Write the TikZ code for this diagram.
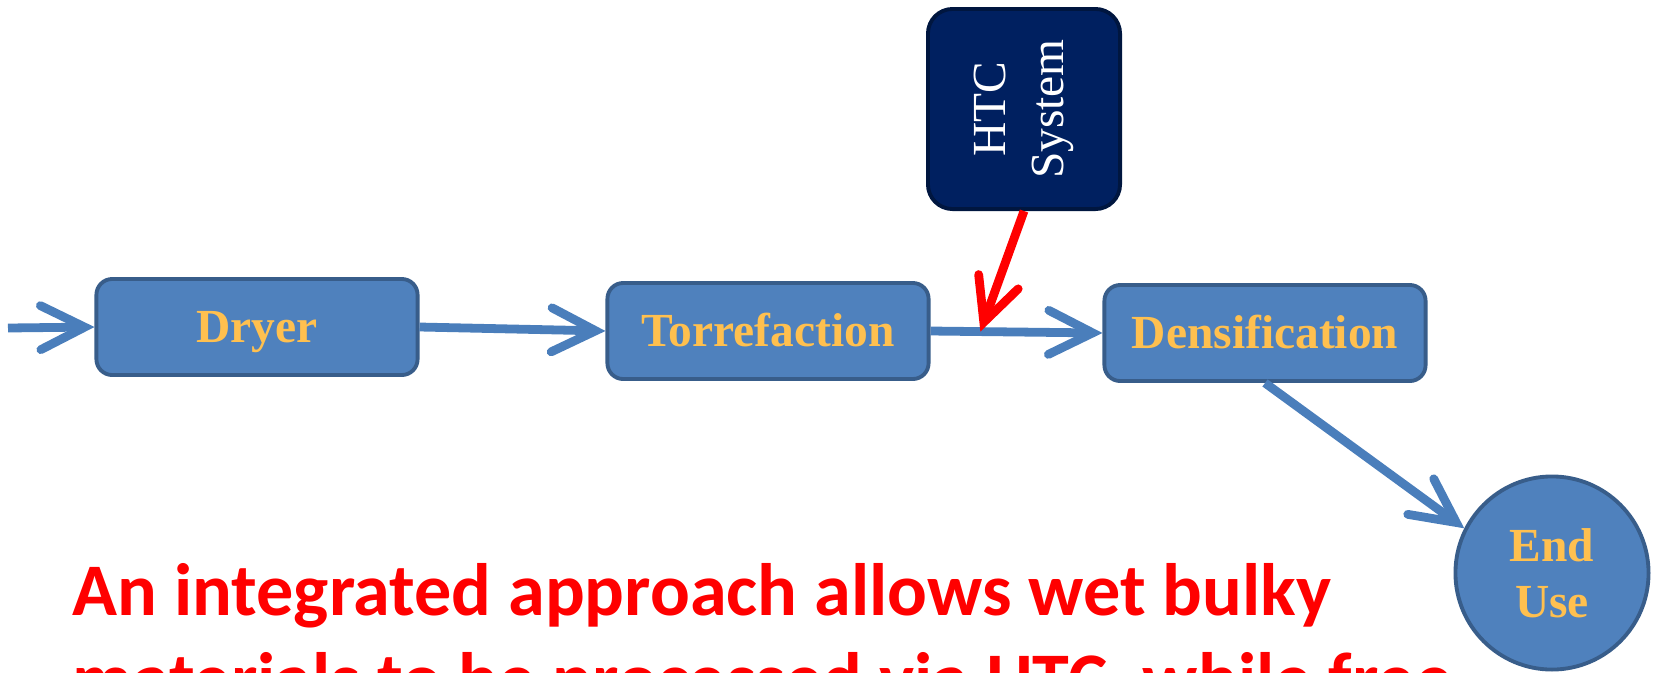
\documentclass[tikz,border=0pt]{standalone}
\usepackage{fontspec}
\setmainfont{Liberation Serif}
\newfontfamily\notefont{Carlito}
\usetikzlibrary{positioning, calc, arrows.meta}
\definecolor{Box}{HTML}{4F81BD}
\definecolor{BoxLine}{HTML}{385D8A}
\definecolor{Flow}{HTML}{4A7EBB}
\definecolor{Label}{HTML}{FFC04F}
\definecolor{Navy}{HTML}{002060}
\definecolor{NavyLine}{HTML}{00163F}
\definecolor{Alert}{HTML}{FF0000}
\tikzset{
    procbox/.style={rectangle, rounded corners=4.5pt, fill=Box, draw=BoxLine, line width=1.1pt, text=Label, font=\bfseries\fontsize{13.5}{16}\selectfont, text height=8.9pt, text depth=0pt, minimum width=3.21cm, minimum height=0.96cm, inner sep=0pt},
    htcbox/.style={rectangle, rounded corners=7pt, fill=Navy, draw=NavyLine, line width=1.1pt, text=white, align=center, font=\fontsize{13.5}{16.5}\selectfont, rotate=90, minimum width=2.0cm, minimum height=1.92cm, inner sep=0pt},
    endnode/.style={circle, fill=Box, draw=BoxLine, line width=1.1pt, text=Label, align=center, font=\bfseries\fontsize{13.5}{16}\selectfont, minimum size=1.93cm, inner sep=0pt},
    flow/.style={-{Straight Barb[length=4.4mm, width=4.4mm, line cap=round]}, line width=2.5pt, color=Flow},
    feed/.style={-{Straight Barb[length=4.3mm, width=4.2mm, line cap=round]}, line width=2.5pt, color=Alert},
    note/.style={anchor=base west, text=Alert, font=\notefont\bfseries\fontsize{21.1}{25}\selectfont, inner sep=0pt},
}

\begin{document}
\begin{tikzpicture}[x=0.01cm, y=-0.01cm]
    \useasboundingbox (0,0) rectangle (1654,672);

    % Processi
    \coordinate (src) at (8,328);
    \node[procbox] (dryer) at (257,327) {Dryer};
    \node[procbox] (torr) at (768,331) {Torrefaction};
    \node[procbox] (dens) at (1265,333) {Densification};
    \node[endnode] (enduse) at (1552,573) {\raisebox{-3pt}{End}\\\raisebox{-3pt}{Use}};

    % HTC (ruotato: west = lato in basso)
    \node[htcbox] (htc) at (1024,109) {HTC\\System};
    \coordinate (htcin) at ($(torr.east)!0.29!(dens.west)$);

    % Frecce
    \draw[flow] (src) -- (dryer.west);
    \draw[flow] (dryer.east) -- (torr.west);
    \draw[flow] (torr.east) -- (dens.west);
    \draw[flow] (dens.south) -- (enduse.153);
    \draw[feed] (htc.west) -- (htcin);

    % Nota
    \begin{scope}
        \clip (0,0) rectangle (1654,672);
        \node[note] (line1) at (72,615) {An integrated approach allows wet bulky};
        \node[note] (line2) at (72,704) {materials to be processed via HTC, while free};
    \end{scope}
\end{tikzpicture}
\end{document}
